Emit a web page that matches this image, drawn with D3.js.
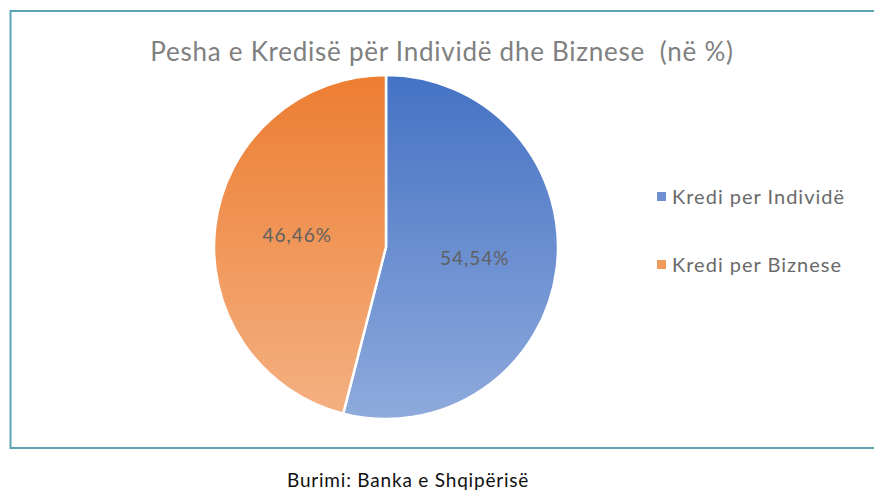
<!DOCTYPE html>
<meta charset="utf-8">
<html>
<head>
<title>Pesha e Kredisë</title>
<script src="https://cdn.jsdelivr.net/npm/d3@7/dist/d3.min.js"></script>
<style>
  body { margin: 0; background: #fff; }
  text { font-family: "Lato", "Noto Sans", sans-serif; }
</style>
</head>
<body>
<svg width="874" height="491"></svg>
<script>
// ---- data
var categories = ["Kredi per Individë", "Kredi per Biznese"];
var values = [54.54, 46.46];
var labels = ["54,54%", "46,46%"];
var titleText = "Pesha e Kredisë për Individë dhe Biznese  (në %)";
var sourceText = "Burimi: Banka e Shqipërisë";

var svg = d3.select("svg"),
    width = +svg.attr("width"),
    height = +svg.attr("height");

var cx = 386, cy = 247, radius = 172;

// gradients, dark at top, light at bottom
var grads = [["#4472c4", "#8faadc"], ["#ed7d31", "#f4b183"]];
var defs = svg.append("defs");
grads.forEach(function(g, i) {
  var lg = defs.append("linearGradient")
      .attr("id", "grad" + i)
      .attr("gradientUnits", "userSpaceOnUse")
      .attr("x1", 0).attr("y1", -radius)
      .attr("x2", 0).attr("y2", radius);
  lg.append("stop").attr("offset", "0%").attr("stop-color", g[0]);
  lg.append("stop").attr("offset", "100%").attr("stop-color", g[1]);
});
var color = d3.scaleOrdinal().domain(categories).range(["url(#grad0)", "url(#grad1)"]);
var swatch = d3.scaleOrdinal().domain(categories).range(["#6f8fd0", "#f09a5c"]);

// frame
svg.append("rect")
    .attr("x", 10.5).attr("y", 11)
    .attr("width", 880).attr("height", 437)
    .attr("fill", "none")
    .attr("stroke", "#5ba3b3")
    .attr("stroke-width", 2);

// title
svg.append("text")
    .attr("x", 442).attr("y", 61)
    .attr("text-anchor", "middle")
    .attr("font-size", 26)
    .attr("letter-spacing", 0.75)
    .attr("fill", "#808080")
    .style("white-space", "pre")
    .text(titleText);

// pie
var pie = d3.pie().sort(null).value(function(d) { return d.value; });
var arc = d3.arc().innerRadius(0).outerRadius(radius);
var data = categories.map(function(c, i) { return {name: c, value: values[i], label: labels[i]}; });

var g = svg.append("g").attr("transform", "translate(" + cx + "," + cy + ")");
g.selectAll("path")
  .data(pie(data))
  .enter().append("path")
    .attr("d", arc)
    .attr("fill", function(d) { return color(d.data.name); })
    .attr("stroke", "#fff")
    .attr("stroke-width", 2.5);

var labelArc = d3.arc().innerRadius(radius * 0.52).outerRadius(radius * 0.52);
g.selectAll("text.lbl")
  .data(pie(data))
  .enter().append("text")
    .attr("class", "lbl")
    .attr("transform", function(d) { var c = labelArc.centroid(d); return "translate(" + c[0] + "," + c[1] + ")"; })
    .attr("text-anchor", "middle")
    .attr("dy", "0.35em")
    .attr("font-size", 19)
    .attr("letter-spacing", 1)
    .attr("fill", "#606060")
    .text(function(d) { return d.data.label; });

// legend
var legend = svg.append("g").attr("transform", "translate(657,197)");
var item = legend.selectAll("g")
  .data(categories)
  .enter().append("g")
    .attr("transform", function(d, i) { return "translate(0," + (i * 68) + ")"; });
item.append("rect")
    .attr("x", 0).attr("y", -5)
    .attr("width", 9).attr("height", 9)
    .attr("fill", function(d) { return swatch(d); });
item.append("text")
    .attr("x", 15).attr("dy", "0.35em")
    .attr("font-size", 20)
    .attr("letter-spacing", 1)
    .attr("fill", "#6a6a6a")
    .text(function(d) { return d; });

// source
svg.append("text")
    .attr("x", 287).attr("y", 487)
    .attr("font-size", 19)
    .attr("letter-spacing", 0.8)
    .attr("fill", "#111")
    .text(sourceText);
</script>
</body>
</html>
